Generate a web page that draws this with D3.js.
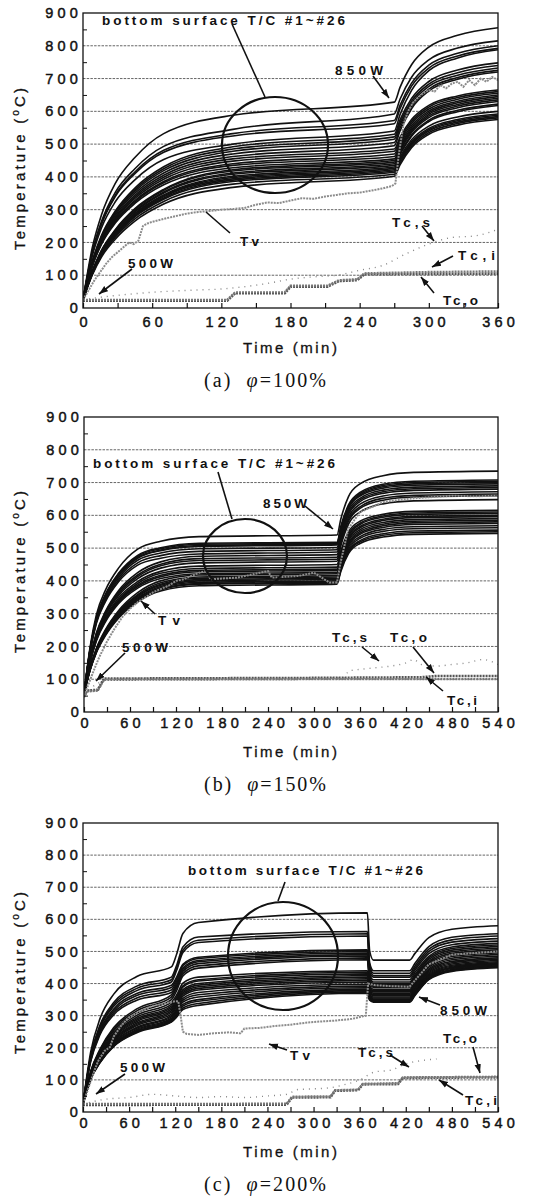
<!DOCTYPE html>
<html><head><meta charset="utf-8">
<script src="https://cdn.jsdelivr.net/npm/d3@7"></script>
<style>
body{margin:0;background:#fff;}
svg text{font-family:"Liberation Sans",Arial,sans-serif;fill:#111;}
</style></head><body>
<svg id="chart" width="549" height="1197"></svg>
<script>
// ---------------- DATA ----------------
const yTicks = [0,100,200,300,400,500,600,700,800,900];
const aXTicks = [0,60,120,180,240,300,360];
const bXTicks = [0,60,120,180,240,300,360,420,480,540];
const cXTicks = [0,60,120,180,240,300,360,420,480,540];

// (a) phi = 100%
const aTimes = [0,8,16,28,45,70,130,270,275,285,300,325,360];
const aTC = [
 [25,183,284,380,459,532,588,628,673,742,796,832,855],
 [25,171,264,353,425,493,545,592,637,704,757,793,815],
 [25,167,258,344,415,481,532,572,618,686,741,777,800],
 [25,165,255,340,410,475,525,562,608,677,732,769,792],
 [25,158,244,324,391,453,500,540,590,664,724,763,788],
 [25,142,221,296,366,431,492,530,574,639,691,726,748],
 [25,140,218,292,361,425,485,522,566,631,683,718,740],
 [25,138,215,288,356,419,478,515,558,624,676,710,732],
 [25,136,212,283,350,412,470,505,549,615,668,703,725],
 [25,134,209,278,344,405,462,495,540,608,662,698,720],
 [25,133,206,274,339,399,455,485,521,575,618,647,665],
 [25,131,203,270,334,393,448,478,514,569,613,642,660],
 [25,129,199,266,328,386,440,470,507,563,607,637,655],
 [25,128,197,263,324,382,435,462,500,556,601,631,650],
 [25,126,194,259,319,376,428,455,493,550,596,626,645],
 [25,112,176,239,303,362,422,450,488,545,591,621,640],
 [25,111,174,237,300,359,418,445,483,540,586,616,635],
 [25,110,172,234,296,354,412,440,478,535,581,611,630],
 [25,109,171,232,293,351,408,435,472,528,573,603,622],
 [25,108,168,229,289,345,402,430,468,524,569,599,618],
 [25,107,167,226,286,342,398,426,461,513,555,583,600],
 [25,106,165,224,283,339,394,422,456,507,548,575,592],
 [25,105,164,222,281,335,390,418,452,503,544,571,588],
 [25,104,162,220,278,332,386,414,448,499,540,567,584],
 [25,103,159,216,272,325,378,408,442,494,535,563,580],
 [25,100,155,210,265,317,368,402,437,489,530,558,575]
];
const aTvTimes = [0,5,10,15,20,25,30,35,40,44,48,52,56,60,70,80,90,100,110,120,130,140,150,160,170,180,190,200,210,220,230,240,250,260,268,271,274,278,282,286,290,295,300,305,310,315,320,325,330,335,340,345,350,355,360];
const aTv = [25,55,85,110,135,155,170,185,200,195,205,250,258,263,272,280,288,293,296,300,302,305,315,322,320,328,335,333,340,345,350,352,358,365,372,380,470,560,600,625,640,655,665,660,680,670,685,690,675,695,680,700,690,705,695];
const aTcsTimes = [0,20,40,60,80,100,120,140,160,180,200,220,240,260,280,300,320,340,360];
const aTcs = [25,35,42,48,52,55,58,65,75,88,95,100,115,130,165,195,215,220,240];
const aTcTimes = [0,125,132,175,180,212,222,238,244,300,360];
const aTco = [22,22,45,45,65,65,82,85,103,104,105];
const aTci = [25,25,48,48,68,68,85,88,106,110,112];

// (b) phi = 150%
const bTimes = [0,8,16,28,45,70,100,150,330,335,345,360,390,430,540];
const bTC = [
 [55,199,295,372,439,497,521,535,540,589,657,696,721,731,735],
 [55,193,285,359,423,478,501,515,518,566,632,670,695,704,708],
 [55,192,284,357,421,475,498,512,515,562,628,666,691,700,704],
 [55,191,282,354,417,472,494,508,512,559,625,662,687,696,700],
 [55,190,280,352,415,469,492,505,510,557,622,659,683,692,696],
 [55,188,277,347,409,463,485,498,502,549,615,652,677,686,690],
 [55,186,273,342,403,455,477,490,495,543,609,647,672,681,685],
 [55,183,269,337,397,448,469,482,488,536,603,642,667,676,680],
 [55,164,240,307,370,425,458,475,480,528,595,634,659,668,672],
 [55,162,237,303,365,418,451,468,472,520,588,626,652,661,665],
 [55,161,234,299,360,413,446,462,466,515,582,621,646,656,660],
 [55,159,231,295,355,407,439,455,460,507,573,610,635,644,648],
 [55,156,227,289,348,398,429,445,450,491,549,582,603,612,615],
 [55,155,224,285,342,392,423,438,442,484,543,576,598,607,610],
 [55,153,221,281,338,387,417,432,436,479,538,572,594,603,606],
 [55,152,219,279,335,383,413,428,432,474,533,566,588,597,600],
 [55,150,216,275,330,378,407,422,426,469,528,562,584,593,596],
 [55,135,193,251,309,364,400,418,422,464,523,556,578,587,590],
 [55,134,191,248,305,358,394,412,416,458,517,551,573,582,585],
 [55,133,189,246,302,355,390,408,412,454,513,546,568,577,580],
 [55,132,188,243,299,352,387,404,408,450,508,542,563,572,575],
 [55,131,186,241,297,348,383,400,405,446,503,535,557,565,568],
 [55,130,185,239,294,345,379,396,400,441,497,530,551,559,562],
 [55,129,183,237,291,341,375,392,396,436,491,523,544,552,555],
 [55,129,182,236,290,340,373,390,394,433,488,519,539,547,550],
 [55,128,180,233,286,336,369,385,390,429,483,514,534,542,545]
];
const bTvTimes = [0,5,10,15,20,30,40,50,60,70,80,90,100,110,120,130,140,150,160,165,200,230,240,245,280,300,310,320,330,335,345,360,390,420,450,480,510,540];
const bTv = [50,80,110,140,168,215,255,290,315,335,350,365,375,385,400,405,415,425,430,405,410,425,430,410,415,425,410,395,395,460,560,610,640,650,655,660,658,660];
const bTcsTimes = [0,20,40,100,200,300,340,345,360,380,400,420,430,440,460,480,500,520,540];
const bTcs = [55,90,102,104,104,104,105,125,130,135,140,150,160,145,140,145,150,160,145];
const bTcTimes = [0,4,18,26,300,440,460,540];
const bTco = [50,65,68,102,104,106,110,110];
const bTci = [45,62,65,98,100,100,100,100];

// (c) phi = 200%
const cTimes = [0,10,22,40,70,115,122,130,150,370,373,378,425,432,450,480,540];
const cTC = [
 [25,187,290,367,422,452,493,556,590,620,502,473,473,494,543,569,580],
 [25,175,270,341,392,420,458,514,545,562,464,440,440,463,515,544,555],
 [25,172,265,335,385,412,449,504,535,555,457,432,432,455,507,536,548],
 [25,169,261,329,378,405,442,497,528,548,450,425,425,448,500,529,540],
 [25,166,254,321,369,395,421,460,482,505,437,420,420,442,493,521,532],
 [25,163,250,315,363,388,415,456,478,500,430,412,412,435,485,514,525],
 [25,160,245,309,355,380,408,449,472,495,423,405,405,428,480,509,520],
 [25,157,240,303,348,372,401,444,468,490,418,400,400,423,475,504,515],
 [25,127,195,263,321,365,394,438,462,486,414,396,396,419,470,499,510],
 [25,125,192,258,315,358,387,431,455,480,410,392,392,415,465,494,505],
 [25,123,188,253,308,350,379,424,448,474,405,388,388,410,461,489,500],
 [25,120,184,247,301,342,365,401,420,440,394,382,382,405,455,484,495],
 [25,118,180,242,295,335,358,393,412,435,389,378,378,400,451,479,490],
 [25,117,178,239,290,330,353,389,408,430,385,374,374,396,446,474,485],
 [25,115,175,235,286,325,348,381,400,425,381,370,370,392,442,469,480],
 [25,114,173,232,282,320,343,376,395,420,377,366,366,388,438,465,476],
 [25,112,170,228,277,315,338,371,390,415,373,362,362,384,434,461,472],
 [25,111,168,225,273,310,333,366,385,410,368,358,358,380,430,457,468],
 [25,109,165,221,269,305,328,361,380,405,365,355,355,377,427,454,465],
 [25,108,163,218,264,300,322,354,372,398,361,352,352,374,424,451,462],
 [25,106,161,215,261,296,317,348,365,392,358,350,350,372,422,449,460],
 [25,105,159,212,257,292,312,342,358,387,356,348,348,370,420,447,458],
 [25,104,157,209,254,288,307,335,350,382,353,346,346,368,417,444,455],
 [25,103,155,207,251,285,303,330,345,378,352,345,345,367,415,442,453],
 [25,102,154,205,249,282,299,324,338,374,350,344,344,365,414,440,451],
 [25,102,153,204,247,280,296,319,332,370,348,342,342,363,412,438,449]
];
const cTvTimes = [0,5,10,15,20,28,35,40,50,60,75,90,100,110,120,124,127,130,135,150,170,190,205,210,230,250,270,290,310,330,350,368,371,380,400,425,432,450,480,540];
const cTv = [25,60,95,130,160,190,202,235,270,295,315,330,335,340,345,345,300,250,243,240,245,248,245,260,262,268,272,278,282,285,290,300,400,395,392,390,410,460,490,500];
const cTcsTimes = [0,30,60,90,120,150,180,210,240,265,280,300,320,340,360,380,400,420,440,460];
const cTcs = [25,40,45,55,50,45,48,45,50,55,70,72,75,85,100,125,130,150,160,165];
const cTcTimes = [0,265,272,322,328,358,364,410,416,540];
const cTco = [22,23,45,46,66,68,86,87,106,108];
const cTci = [25,26,48,49,68,70,88,90,108,110];

// ---------------- LAYOUT ----------------
const panels = [
 {key:'a', left:83, right:498, top:13, bottom:308, tmax:360, xTicks:aXTicks, labPad:9,
  T:aTimes, TC:aTC, tvT:aTvTimes, tv:aTv, tcsT:aTcsTimes, tcs:aTcs, tcT:aTcTimes, tco:aTco, tci:aTci,
  ellipse:[275,145,53,48], ylab:169, cap:['(a)','100%'], capY:387,
  notes:[
   {t:'bottom surface T/C #1~#26', x:102, y:25, w:243, l:[232,24,265,97], arrow:false},
   {t:'850W', x:335, y:75, w:48, l:[373,76,389,98], arrow:true},
   {t:'Tv', x:240, y:246, w:19, l:[230,233,206,212], arrow:false},
   {t:'500W', x:128, y:268, w:45, l:[132,269,99,294], arrow:true},
   {t:'Tc,s', x:392, y:227, w:38, l:[422,226,434,241], arrow:true},
   {t:'Tc,i', x:458, y:260, w:37, l:[453,256,432,267], arrow:true},
   {t:'Tc,o', x:443, y:305, w:35, l:[434,293,421,277], arrow:true}
  ]},
 {key:'b', left:84, right:498, top:417, bottom:712, tmax:540, xTicks:bXTicks, labPad:6,
  T:bTimes, TC:bTC, tvT:bTvTimes, tv:bTv, tcsT:bTcsTimes, tcs:bTcs, tcT:bTcTimes, tco:bTco, tci:bTci,
  ellipse:[245,556,42,37], ylab:572, cap:['(b)','150%'], capY:791,
  notes:[
   {t:'bottom surface T/C #1~#26', x:93, y:468, w:242, l:[218,472,232,519], arrow:false},
   {t:'850W', x:263, y:508, w:44, l:[305,506,333,529], arrow:true},
   {t:'Tv', x:158, y:625, w:22, l:[155,614,141,601], arrow:true},
   {t:'500W', x:122, y:652, w:46, l:[125,653,96,681], arrow:true},
   {t:'Tc,s', x:332, y:642, w:35, l:[362,647,379,661], arrow:true},
   {t:'Tc,o', x:390, y:642, w:37, l:[413,647,434,673], arrow:true},
   {t:'Tc,i', x:447, y:705, w:30, l:[443,691,426,677], arrow:true}
  ]},
 {key:'c', left:83, right:498, top:823, bottom:1112, tmax:540, xTicks:cXTicks, labPad:6,
  T:cTimes, TC:cTC, tvT:cTvTimes, tv:cTv, tcsT:cTcsTimes, tcs:cTcs, tcT:cTcTimes, tco:cTco, tci:cTci,
  ellipse:[283,956,55,54], ylab:973, cap:['(c)','200%'], capY:1191,
  notes:[
   {t:'bottom surface T/C #1~#26', x:188, y:875, w:235, l:[285,882,278,901], arrow:false},
   {t:'850W', x:440, y:1015, w:47, l:[440,1005,419,997], arrow:true},
   {t:'Tc,o', x:443, y:1043, w:34, l:[473,1047,480,1073], arrow:true},
   {t:'Tv', x:290, y:1060, w:20, l:[287,1050,269,1044], arrow:true},
   {t:'Tc,s', x:358, y:1057, w:35, l:[390,1055,409,1067], arrow:true},
   {t:'500W', x:120, y:1072, w:45, l:[125,1074,96,1094], arrow:true},
   {t:'Tc,i', x:465, y:1105, w:32, l:[463,1095,439,1080], arrow:true}
  ]}
];

const svg = d3.select('#chart');
const defs = svg.append('defs');
defs.append('marker').attr('id','ah').attr('viewBox','0 -4 9 8')
  .attr('refX',9).attr('refY',0).attr('markerWidth',9).attr('markerHeight',8)
  .attr('markerUnits','userSpaceOnUse').attr('orient','auto')
  .append('path').attr('d','M0,-3.2L9,0L0,3.2Z').attr('fill','#111');

panels.forEach(p => {
  const x = d3.scaleLinear().domain([0,p.tmax]).range([p.left,p.right]);
  const y = d3.scaleLinear().domain([0,900]).range([p.bottom,p.top]);
  const g = svg.append('g');
  const pts = (ts,vs) => ts.map((t,i)=>[t,vs[i]]);
  const line = d3.line().x(d=>x(d[0])).y(d=>y(d[1])).curve(d3.curveMonotoneX);
  const lineLin = d3.line().x(d=>x(d[0])).y(d=>y(d[1]));

  // grid
  g.selectAll('line.grid').data(yTicks.filter(v=>v>0 && v<900)).join('line')
    .attr('x1',p.left).attr('x2',p.right).attr('y1',d=>y(d)).attr('y2',d=>y(d))
    .attr('stroke','#555').attr('stroke-width',0.9).attr('stroke-dasharray','2.5,1.2');

  defs.append('clipPath').attr('id','clip'+p.key).append('rect')
    .attr('x',p.left).attr('y',p.top).attr('width',p.right-p.left).attr('height',p.bottom-p.top);
  const plot = g.append('g').attr('clip-path',`url(#clip${p.key})`);

  // thermocouple lines
  plot.selectAll('path.tc').data(p.TC).join('path')
    .attr('d',row=>line(pts(p.T,row))).attr('fill','none')
    .attr('stroke','#111').attr('stroke-width',1.6);

  // Tc,s dotted
  plot.append('path').attr('d',line(pts(p.tcsT,p.tcs))).attr('fill','none')
    .attr('stroke','#888').attr('stroke-width',1.4).attr('stroke-dasharray','1,5');
  // Tc,o / Tc,i
  plot.append('path').attr('d',lineLin(pts(p.tcT,p.tco))).attr('fill','none')
    .attr('stroke','#555').attr('stroke-width',2.6).attr('stroke-dasharray','2,1');
  plot.append('path').attr('d',lineLin(pts(p.tcT,p.tci))).attr('fill','none')
    .attr('stroke','#777').attr('stroke-width',2.2).attr('stroke-dasharray','2,1');
  // Tv
  plot.append('path').attr('d',lineLin(pts(p.tvT,p.tv))).attr('fill','none')
    .attr('stroke','#8c8c8c').attr('stroke-width',2).attr('stroke-dasharray','2,1');

  // circle annotation
  g.append('ellipse').attr('cx',p.ellipse[0]).attr('cy',p.ellipse[1])
    .attr('rx',p.ellipse[2]).attr('ry',p.ellipse[3])
    .attr('fill','none').attr('stroke','#111').attr('stroke-width',2.2);

  // frame
  g.append('rect').attr('x',p.left).attr('y',p.top).attr('width',p.right-p.left).attr('height',p.bottom-p.top)
    .attr('fill','none').attr('stroke','#111').attr('stroke-width',1.3);

  // x axis
  const xa = g.append('g').attr('transform',`translate(0,${p.bottom})`)
    .call(d3.axisBottom(x).tickValues(d3.range(0,p.tmax+1,30)).tickSize(-5).tickPadding(p.labPad)
      .tickFormat(d => p.xTicks.includes(d) ? d : ''));
  xa.select('.domain').remove();
  xa.selectAll('line').attr('stroke','#111').attr('stroke-width',1.2);
  xa.selectAll('text').attr('font-size',14.5).attr('letter-spacing','4.2px').attr('dx','2.1px')
    .attr('fill','#111').attr('stroke','#111').attr('stroke-width',0.45)
    .style('font-family','"Liberation Sans",Arial,sans-serif');

  // y axis
  const ya = g.append('g').attr('transform',`translate(${p.left},0)`)
    .call(d3.axisLeft(y).tickValues(yTicks).tickSize(0).tickPadding(1));
  ya.select('.domain').remove();
  ya.selectAll('text').attr('font-size',14.5).attr('letter-spacing','4.2px')
    .attr('fill','#111').attr('stroke','#111').attr('stroke-width',0.45)
    .style('font-family','"Liberation Sans",Arial,sans-serif');
  const ym = g.append('g').attr('transform',`translate(${p.left},0)`)
    .call(d3.axisLeft(y).tickValues(d3.range(50,900,50).filter(v=>v%100!==0)).tickSize(-4).tickFormat(''));
  ym.select('.domain').remove();
  ym.selectAll('line').attr('stroke','#111');

  // axis titles
  g.append('text').attr('x',290).attr('y',p.bottom+45).attr('text-anchor','middle')
    .attr('font-size',15).attr('textLength',94).attr('lengthAdjust','spacing')
    .attr('stroke','#111').attr('stroke-width',0.3).text('Time (min)');
  const yt = g.append('text').attr('transform',`translate(25,${p.ylab}) rotate(-90)`)
    .attr('text-anchor','middle').attr('font-size',15).attr('textLength',162).attr('lengthAdjust','spacing')
    .attr('stroke','#111').attr('stroke-width',0.3);
  yt.append('tspan').text('Temperature (');
  yt.append('tspan').attr('font-size',10).attr('dy',-6).text('o');
  yt.append('tspan').attr('dy',6).text('C)');

  // caption
  const cap = g.append('text').attr('x',265).attr('y',p.capY).attr('text-anchor','middle')
    .attr('font-size',20).attr('textLength',122).attr('lengthAdjust','spacing')
    .style('font-family','"Liberation Serif","Times New Roman",serif');
  cap.append('tspan').text(p.cap[0]+'\u00a0\u00a0');
  cap.append('tspan').style('font-style','italic').text('\u03c6');
  cap.append('tspan').text('=' + p.cap[1]);

  // annotations
  p.notes.forEach(n => {
    g.append('text').attr('x',n.x).attr('y',n.y).attr('font-size',13.5).attr('font-weight','bold')
      .attr('textLength',n.w).attr('lengthAdjust','spacing').text(n.t);
    const ln = g.append('line').attr('x1',n.l[0]).attr('y1',n.l[1]).attr('x2',n.l[2]).attr('y2',n.l[3])
      .attr('stroke','#111').attr('stroke-width',1.6);
    if (n.arrow) ln.attr('marker-end','url(#ah)');
  });
});
</script></body></html>
